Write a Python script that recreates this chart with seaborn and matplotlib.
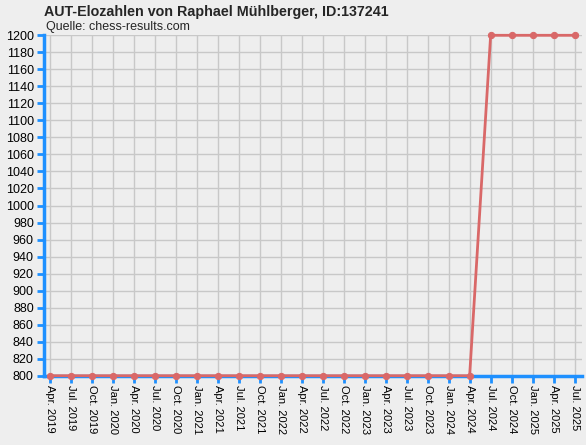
import matplotlib
matplotlib.use('Agg')
import matplotlib.pyplot as plt
import seaborn as sns
import pandas as pd

# quarterly dates and ratings
quarters = ['Apr. 2019', 'Jul. 2019', 'Oct. 2019', 'Jan. 2020', 'Apr. 2020', 'Jul. 2020',
            'Oct. 2020', 'Jan. 2021', 'Apr. 2021', 'Jul. 2021', 'Oct. 2021', 'Jan. 2022',
            'Apr. 2022', 'Jul. 2022', 'Oct. 2022', 'Jan. 2023', 'Apr. 2023', 'Jul. 2023',
            'Oct. 2023', 'Jan. 2024', 'Apr. 2024', 'Jul. 2024', 'Oct. 2024', 'Jan. 2025',
            'Apr. 2025', 'Jul. 2025']
elo = [800, 800, 800, 800, 800, 800, 800, 800, 800, 800, 800, 800, 800,
       800, 800, 800, 800, 800, 800, 800, 800, 1200, 1200, 1200, 1200, 1200]
y_ticks = list(range(800, 1201, 20))

df = pd.DataFrame({'pos': range(len(quarters)), 'elo': elo})

sns.set_style('whitegrid')
plt.rcParams['font.family'] = ['Liberation Sans', 'DejaVu Sans']

bg = '#EEEEEE'
blue = '#1E90FF'
red = '#D96868'

fig = plt.figure(figsize=(5.86, 4.45), dpi=100, facecolor=bg)
ax = fig.add_axes([43.5 / 586, 1 - 375.7 / 445, (582 - 43.5) / 586, (375.7 - 35.3) / 445])
ax.set_facecolor(bg)

sns.lineplot(data=df, x='pos', y='elo', ax=ax, color=red, linewidth=2,
             marker='o', markersize=4.5, markeredgecolor=red, zorder=5, clip_on=False)

ax.set_xlim(-0.29, 25.35)
ax.set_ylim(800, 1200)
ax.set_xticks(range(len(quarters)))
ax.set_xticklabels(quarters, rotation=270, fontsize=8)
ax.set_yticks(y_ticks)
ax.set_yticklabels([str(v) for v in y_ticks], fontsize=9)
ax.set_xlabel('')
ax.set_ylabel('')

ax.grid(True, color='#C8C8C8', linewidth=1)
for side in ['top', 'right']:
    ax.spines[side].set_visible(False)
for side in ['left', 'bottom']:
    ax.spines[side].set_color(blue)
    ax.spines[side].set_linewidth(2.5)
ax.tick_params(axis='both', bottom=True, left=True, colors=blue, length=5,
               width=2, direction='out', pad=2)
ax.tick_params(axis='both', labelcolor='black')
ax.tick_params(axis='x', pad=2)

fig.text(44 / 586, 1 - 12 / 445, 'AUT-Elozahlen von Raphael Mühlberger, ID:137241',
         fontsize=10.3, fontweight='bold', va='center', ha='left')
fig.text(46 / 586, 1 - 27 / 445, 'Quelle: chess-results.com',
         fontsize=9, va='center', ha='left')

fig.savefig('out.png', dpi=100, facecolor=bg)
